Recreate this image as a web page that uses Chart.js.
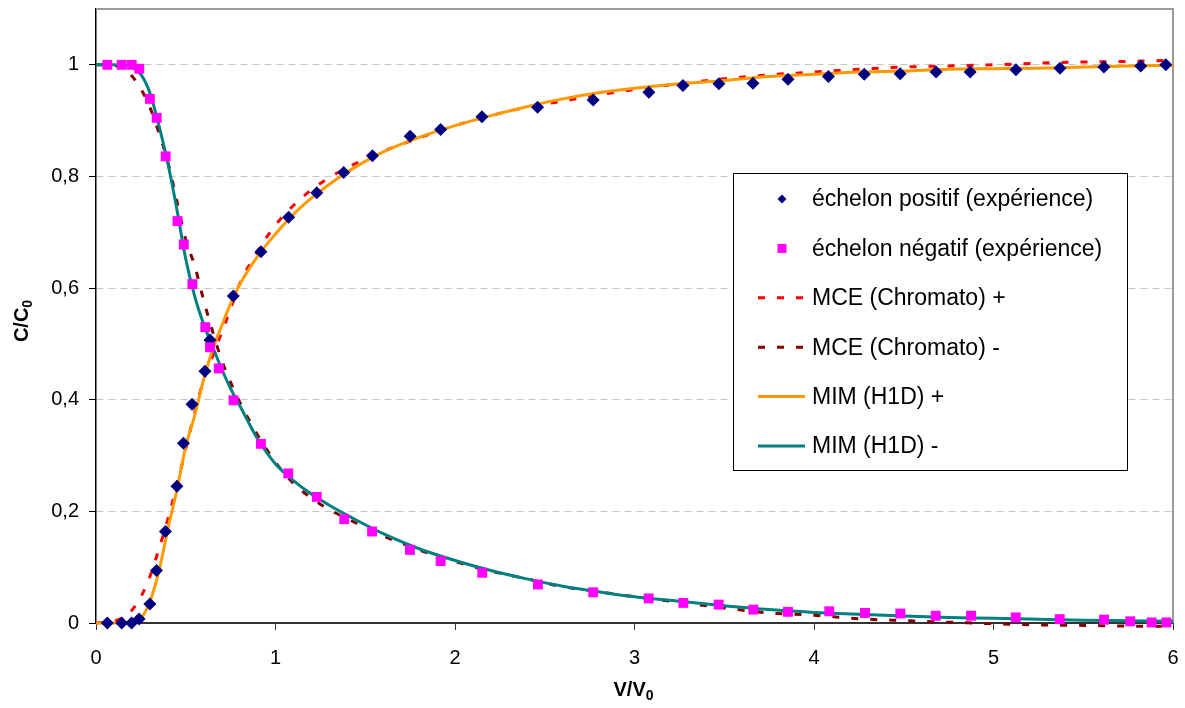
<!DOCTYPE html>
<html>
<head>
<meta charset="utf-8">
<title>C/C0 en fonction de V/V0</title>
<script src="https://cdn.jsdelivr.net/npm/chart.js"></script>
<style>
  html, body { margin: 0; padding: 0; background: #fff; }
  #wrap { position: relative; width: 1185px; height: 708px; }
</style>
</head>
<body>
<div id="wrap"><canvas id="chart"></canvas></div>
<script>
const posV = [0.063, 0.143, 0.198, 0.24, 0.30, 0.337, 0.387, 0.451, 0.487, 0.535, 0.607, 0.635, 0.765, 0.919, 1.073,
  1.23, 1.38, 1.54, 1.75, 1.92, 2.15, 2.46, 2.77, 3.08, 3.27, 3.47, 3.66, 3.855, 4.08, 4.28,
  4.48, 4.68, 4.87, 5.125, 5.37, 5.615, 5.82, 5.96];
const posC = [0, 0, 0, 0.007, 0.034, 0.094, 0.164, 0.245, 0.322, 0.392, 0.451, 0.507, 0.586, 0.665, 0.727,
  0.771, 0.807, 0.837, 0.872, 0.884, 0.907, 0.924, 0.937, 0.951, 0.963, 0.966, 0.967, 0.974, 0.979, 0.983,
  0.984, 0.987, 0.987, 0.991, 0.994, 0.996, 0.998, 1.0];

const negV = [0.063, 0.143, 0.199, 0.241, 0.30, 0.338, 0.388, 0.454, 0.489, 0.537, 0.609, 0.635, 0.684, 0.766, 0.919,
  1.071, 1.23, 1.383, 1.538, 1.749, 1.92, 2.152, 2.462, 2.77, 3.079, 3.272, 3.469, 3.662, 3.855, 4.085,
  4.284, 4.481, 4.678, 4.875, 5.124, 5.369, 5.616, 5.762, 5.881, 5.963];
const negC = [1.0, 1.0, 1.0, 0.993, 0.939, 0.905, 0.836, 0.72, 0.678, 0.607, 0.53, 0.494, 0.456, 0.399, 0.321,
  0.268, 0.226, 0.186, 0.164, 0.131, 0.111, 0.09, 0.069, 0.055, 0.044, 0.036, 0.033, 0.024, 0.020, 0.021,
  0.018, 0.017, 0.013, 0.013, 0.010, 0.007, 0.006, 0.003, 0.001, 0.001];

// --- model curves, sampled on a common V/V0 grid ---
const modelV = [0, 0.05, 0.1, 0.15, 0.2, 0.25, 0.3, 0.35, 0.4, 0.45, 0.5, 0.55, 0.6, 0.65, 0.7, 0.75, 0.8, 0.9, 1.0,
  1.1, 1.2, 1.3, 1.4, 1.5, 1.6, 1.8, 2.0, 2.2, 2.4, 2.6, 2.8, 3.0, 3.25, 3.5, 3.75, 4.0, 4.25, 4.5, 4.75,
  5.0, 5.25, 5.5, 5.75, 6.0];
const mcePlus = [0, 0.001, 0.003, 0.01, 0.023, 0.047, 0.083, 0.132, 0.186, 0.246, 0.312, 0.377, 0.435, 0.478, 0.52, 0.563, 0.607, 0.666, 0.713,
  0.748, 0.776, 0.798, 0.816, 0.831, 0.845, 0.869, 0.891, 0.909, 0.924, 0.935, 0.946, 0.956, 0.966, 0.975, 0.982, 0.987, 0.992, 0.996, 0.998,
  1.0, 1.003, 1.005, 1.006, 1.008];
const mceMinus = [1, 1, 0.999, 0.994, 0.98, 0.957, 0.924, 0.879, 0.826, 0.757, 0.687, 0.64, 0.578, 0.522, 0.471, 0.431, 0.396, 0.337, 0.288,
  0.25, 0.224, 0.203, 0.187, 0.171, 0.156, 0.131, 0.110, 0.093, 0.079, 0.065, 0.056, 0.047, 0.037, 0.027, 0.018, 0.014, 0.0077, 0.0042, 0.0014,
  -0.0012, -0.0034, -0.0043, -0.0055, -0.006];
const mimPlus = [0, 0, 0, 0, 0.001, 0.008, 0.038, 0.092, 0.168, 0.237, 0.316, 0.372, 0.437, 0.49, 0.532, 0.572, 0.606, 0.657, 0.697,
  0.732, 0.761, 0.786, 0.808, 0.827, 0.844, 0.870, 0.891, 0.909, 0.925, 0.939, 0.950, 0.958, 0.966, 0.972, 0.979, 0.983, 0.987, 0.989, 0.992,
  0.993, 0.994, 0.996, 0.998, 0.999];
const mimMinus = [1, 1, 1, 0.999, 0.996, 0.983, 0.95, 0.892, 0.824, 0.742, 0.652, 0.585, 0.535, 0.495, 0.455, 0.42, 0.39, 0.33, 0.285,
  0.255, 0.231, 0.211, 0.193, 0.176, 0.16, 0.133, 0.112, 0.094, 0.079, 0.066, 0.056, 0.047, 0.039, 0.031, 0.024, 0.019, 0.0155, 0.0125, 0.01,
  0.0085, 0.0065, 0.005, 0.004, 0.003];

const xTicks = [0, 1, 2, 3, 4, 5, 6];
const yTicks = [0, 0.2, 0.4, 0.6, 0.8, 1];

const FONT = '"Liberation Sans", Arial, sans-serif';

function pts(xs, ys) {
  return xs.map((x, i) => ({ x: x, y: ys[i] }));
}

// text followed by a subscript "0"
function subText(ctx, main, sub, cx, baseline, size) {
  ctx.font = 'bold ' + size + 'px ' + FONT;
  const w1 = ctx.measureText(main).width;
  ctx.font = 'bold ' + Math.round(size * 0.68) + 'px ' + FONT;
  const w2 = ctx.measureText(sub).width;
  const left = cx - (w1 + w2) / 2;
  ctx.textAlign = 'left';
  ctx.textBaseline = 'alphabetic';
  ctx.font = 'bold ' + size + 'px ' + FONT;
  ctx.fillText(main, left, baseline);
  ctx.font = 'bold ' + Math.round(size * 0.68) + 'px ' + FONT;
  ctx.fillText(sub, left + w1, baseline + size * 0.22);
}

// gray frame on top / right of the plot area
const frame = {
  id: 'frame',
  beforeDatasetsDraw(chart) {
    const { ctx, chartArea: a } = chart;
    ctx.save();
    ctx.strokeStyle = '#9a9a9a';
    ctx.lineWidth = 2;
    ctx.beginPath();
    ctx.moveTo(a.left, a.top);
    ctx.lineTo(a.right, a.top);
    ctx.lineTo(a.right, a.bottom);
    ctx.stroke();
    ctx.restore();
  }
};

// axis titles + boxed legend
const decor = {
  id: 'decor',
  afterDraw(chart) {
    const ctx = chart.ctx;
    const a = chart.chartArea;
    ctx.save();
    ctx.fillStyle = '#000';
    subText(ctx, 'V/V', '0', (a.left + a.right) / 2 - 1, 696, 20);
    ctx.translate(28, 321);
    ctx.rotate(-Math.PI / 2);
    subText(ctx, 'C/C', '0', 0, 0, 20);
    ctx.restore();

    // legend
    const bx = 733, by = 173, bw = 394, bh = 297;
    ctx.save();
    ctx.fillStyle = '#fff';
    ctx.fillRect(bx, by, bw, bh);
    ctx.strokeStyle = '#000';
    ctx.lineWidth = 1;
    ctx.strokeRect(bx + 0.5, by + 0.5, bw, bh);
    chart.data.datasets.forEach((ds, i) => {
      const y = 199 + i * 49.4;
      ctx.save();
      if (ds.showLine) {
        ctx.strokeStyle = ds.borderColor;
        ctx.lineWidth = 3;
        ctx.lineCap = 'butt';
        ctx.setLineDash(ds.borderDash || []);
        ctx.beginPath();
        ctx.moveTo(758, y);
        ctx.lineTo(805, y);
        ctx.stroke();
      } else if (ds.pointStyle === 'rectRot') {
        ctx.fillStyle = ds.backgroundColor;
        ctx.beginPath();
        ctx.moveTo(782, y - 4.5);
        ctx.lineTo(786.5, y);
        ctx.lineTo(782, y + 4.5);
        ctx.lineTo(777.5, y);
        ctx.closePath();
        ctx.fill();
      } else {
        ctx.fillStyle = ds.backgroundColor;
        ctx.fillRect(777.5, y - 4.5, 9, 9);
      }
      ctx.restore();
      ctx.fillStyle = '#000';
      ctx.font = '23px ' + FONT;
      ctx.textAlign = 'left';
      ctx.textBaseline = 'middle';
      ctx.fillText(ds.label, 812, y + 1);
    });
    ctx.restore();
  }
};

const ctxChart = document.getElementById('chart');

new Chart(ctxChart, {
  type: 'scatter',
  data: {
    datasets: [
      {
        label: 'échelon positif (expérience)',
        data: pts(posV, posC),
        showLine: false,
        pointStyle: 'rectRot',
        pointRadius: 6.5,
        backgroundColor: '#000080',
        borderColor: '#000080',
        borderWidth: 0,
        clip: false,
        order: 1
      },
      {
        label: 'échelon négatif (expérience)',
        data: pts(negV, negC),
        showLine: false,
        pointStyle: 'rect',
        pointRadius: 7,
        backgroundColor: '#ff00ff',
        borderColor: '#ff00ff',
        borderWidth: 0,
        clip: false,
        order: 0
      },
      {
        label: 'MCE (Chromato) +',
        data: pts(modelV, mcePlus),
        showLine: true,
        borderColor: '#ff0000',
        borderWidth: 3,
        borderDash: [7, 12],
        pointRadius: 0,
        cubicInterpolationMode: 'monotone',
        clip: false,
        order: 5
      },
      {
        label: 'MCE (Chromato) -',
        data: pts(modelV, mceMinus),
        showLine: true,
        borderColor: '#800000',
        borderWidth: 3,
        borderDash: [7, 12],
        pointRadius: 0,
        cubicInterpolationMode: 'monotone',
        clip: false,
        order: 4
      },
      {
        label: 'MIM (H1D) +',
        data: pts(modelV, mimPlus),
        showLine: true,
        borderColor: '#ff9900',
        borderWidth: 3,
        pointRadius: 0,
        cubicInterpolationMode: 'monotone',
        clip: false,
        order: 3
      },
      {
        label: 'MIM (H1D) -',
        data: pts(modelV, mimMinus),
        showLine: true,
        borderColor: '#008080',
        borderWidth: 3,
        pointRadius: 0,
        cubicInterpolationMode: 'monotone',
        clip: false,
        order: 2
      }
    ]
  },
  options: {
    responsive: true,
    maintainAspectRatio: false,
    animation: false,
    events: [],
    layout: { padding: { top: 9, right: 12, left: 0, bottom: 0 } },
    plugins: {
      legend: { display: false },
      tooltip: { enabled: false }
    },
    scales: {
      x: {
        type: 'linear',
        min: 0,
        max: 6,
        afterBuildTicks: s => { s.ticks = xTicks.map(v => ({ value: v })); },
        afterFit: s => { s.height = 85; s.paddingLeft = 0; s.paddingRight = 0; },
        ticks: {
          color: '#000',
          font: { family: FONT, size: 20 },
          padding: 16,
          maxRotation: 0,
          callback: v => String(v)
        },
        grid: { drawOnChartArea: false, tickLength: 7, tickColor: '#333', tickWidth: 1 },
        border: { color: '#333', width: 2 }
      },
      y: {
        min: 0,
        max: 1.1,
        afterBuildTicks: s => { s.ticks = yTicks.map(v => ({ value: v })); },
        afterFit: s => { s.width = 96; s.paddingTop = 0; s.paddingBottom = 0; },
        ticks: {
          color: '#000',
          font: { family: FONT, size: 20 },
          padding: 10,
          callback: v => String(v).replace('.', ',')
        },
        grid: { color: '#c4c4c4', lineWidth: 1, tickLength: 7, tickColor: '#000', tickBorderDash: [0, 0], tickWidth: 1 },
        border: { color: '#000', width: 1.5, dash: [7, 5] }
      }
    }
  },
  plugins: [frame, decor]
});
</script>
</body>
</html>
